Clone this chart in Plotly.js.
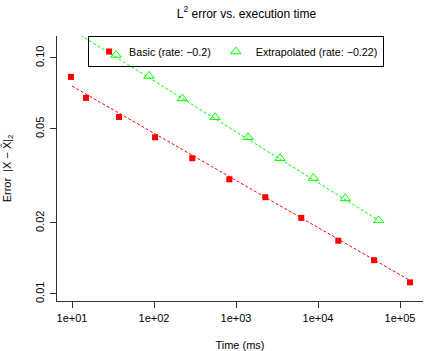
<!DOCTYPE html>
<html>
<head>
<meta charset="utf-8">
<script src="https://cdn.plot.ly/plotly-3.0.1.min.js"></script>
<style>html,body{margin:0;padding:0;background:#fff;}#chart{width:425px;height:351px;}</style>
</head>
<body>
<div id="chart"></div>
<script>
// Basic method: execution time (ms) and L2 error
const basicTime = [9.7, 14.8, 37.4, 103, 293, 828, 2276, 6250, 17660, 48200, 132400];
const basicErr  = [0.0831, 0.0677, 0.0562, 0.0461, 0.0376, 0.0306, 0.0257, 0.0210, 0.0168, 0.0139, 0.0112];
// Extrapolated method
const extraTime = [34.5, 86.9, 221, 555, 1400, 3440, 8770, 21540, 54900];
const extraErr  = [0.103, 0.0839, 0.0673, 0.0561, 0.0461, 0.0376, 0.0310, 0.0254, 0.0205];
// Fitted lines (end points)
const basicFitTime = [10, 132400];
const basicFitErr  = [0.0760, 0.0114];
const extraFitTime = [10, 54900];
const extraFitErr  = [0.1315, 0.0205];
// Tick labels
const xTickVals = [10, 100, 1000, 10000, 100000];
const xTickText = ['1e+01', '1e+02', '1e+03', '1e+04', '1e+05'];
const yTickVals = [0.01, 0.02, 0.05, 0.10];
const yTickText = ['0.01', '0.02', '0.05', '0.10'];

const font = {family: 'Liberation Sans, Arial, sans-serif', color: '#000'};

const traces = [
  {x: basicFitTime, y: basicFitErr, mode: 'lines', showlegend: false, hoverinfo: 'skip',
   line: {color: '#ff0000', width: 1, dash: '3px,2px'}},
  {x: extraFitTime, y: extraFitErr, mode: 'lines', showlegend: false, hoverinfo: 'skip',
   line: {color: '#00ff00', width: 1, dash: '3px,2px'}},
  {x: basicTime, y: basicErr, mode: 'markers', name: 'Basic (rate: \u22120.2)',
   marker: {symbol: 'square', size: 6, color: '#ff0000'}},
  {x: extraTime, y: extraErr, mode: 'markers', name: 'Extrapolated (rate: \u22120.22)',
   marker: {symbol: 'triangle-up-open', size: 9, color: '#00ff00', line: {color: '#00ff00', width: 1}}}
];

const layout = {
  width: 425, height: 351,
  margin: {l: 57, r: 2, t: 36, b: 50},
  paper_bgcolor: '#fff', plot_bgcolor: '#fff',
  font: Object.assign({size: 11}, font),
  title: {text: 'L<sup>2</sup> error vs. execution time', x: 0.58, xanchor: 'center', y: 0.962, yanchor: 'middle',
          font: Object.assign({size: 12}, font)},
  xaxis: {type: 'log', range: [0.817, 5.28], showgrid: false, zeroline: false,
          showline: true, linecolor: '#333', linewidth: 1, mirror: false,
          ticks: 'outside', ticklen: 6, tickcolor: '#333', tickvals: xTickVals, ticktext: xTickText,
          ticklabelstandoff: 1,
          tickfont: Object.assign({size: 11}, font),
          title: {text: 'Time (ms)', font: Object.assign({size: 11}, font), standoff: 18}},
  yaxis: {type: 'log', range: [-2.03, -0.907], showgrid: false, zeroline: false,
          showline: true, linecolor: '#333', linewidth: 1, mirror: false,
          ticks: 'outside', ticklen: 6, tickcolor: '#333', tickvals: yTickVals, ticktext: yTickText,
          ticklabelstandoff: 2,
          tickangle: -90, tickfont: Object.assign({size: 11}, font),
          title: {text: 'Error  |X \u2212 X\u0302|<sub>2</sub>', font: Object.assign({size: 11}, font), standoff: 20}},
  legend: {orientation: 'h', x: 0.085, xanchor: 'left', y: 1, yanchor: 'top',
           bgcolor: 'rgba(0,0,0,0)', bordercolor: '#000', borderwidth: 1,
           font: Object.assign({size: 10.7}, font), itemwidth: 30},
  showlegend: true
};

Plotly.newPlot('chart', traces, layout, {staticPlot: true, displayModeBar: false});
</script>
</body>
</html>
